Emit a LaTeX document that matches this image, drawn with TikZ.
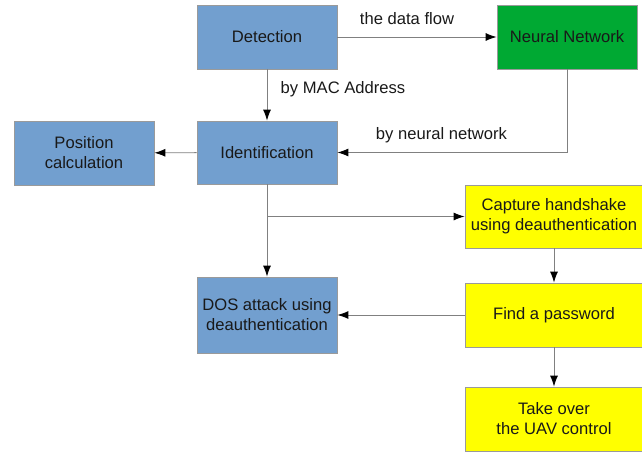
\documentclass[tikz,border=0pt]{standalone}
\usepackage{fontspec}
\setmainfont{Liberation Sans}
\usetikzlibrary{arrows.meta}
\definecolor{boxblue}{HTML}{729FCF}
\definecolor{boxgreen}{HTML}{00A933}
\definecolor{boxyellow}{HTML}{FFFF00}
\definecolor{edgegray}{HTML}{9A9A9A}
\definecolor{linegray}{HTML}{808080}
\tikzset{
  box/.style={draw=edgegray, line width=0.8pt, rectangle, inner sep=0pt, align=center,
    font=\fontsize{16.6}{20}\selectfont, text=black!90},
  bluebox/.style={box, fill=boxblue, minimum width=140pt, minimum height=64pt},
  greenbox/.style={box, fill=boxgreen, minimum width=140pt, minimum height=64pt},
  yellowbox/.style={box, fill=boxyellow, minimum width=178pt, minimum height=64pt},
  conn/.style={draw=linegray, line width=0.9pt, -{Latex[length=11pt,width=8pt,color=black]}},
  lbl/.style={font=\fontsize{16.6}{20}\selectfont, inner sep=0pt, text=black!90}
}
\begin{document}
\begin{tikzpicture}[x=1pt,y=-1pt]
\useasboundingbox (0,0) rectangle (642,452);
\node[bluebox] (det) at (267,37) {Detection};
\node[greenbox] (nn) at (567,37) {Neural Network};
\node[bluebox] (pos) at (84,153) {Position\\calculation};
\node[bluebox, minimum height=63pt] (id) at (267,152.5) {Identification};
\node[yellowbox, minimum height=63pt] (cap) at (554,216.5) {Capture handshake\\using deauthentication};
\node[bluebox, minimum height=76pt] (dos) at (267,315) {DOS attack using\\deauthentication};
\node[yellowbox] (find) at (554,315) {Find a password};
\node[yellowbox] (take) at (554,419) {Take over\\the UAV control};
\coordinate (br) at (267,216.5);
\draw[conn] (det) -- (nn);
\draw[conn] (det) -- (id);
\draw[conn] (nn.south) |- (id.east);
\draw[conn] (id) -- (pos);
\draw[conn] (id) -- (dos);
\draw[conn] (br) -- (cap.west);
\draw[conn] (cap.south -| find.north) -- (find.north);
\draw[conn] (find) -- (dos);
\draw[conn] (find) -- (take);
\node[lbl] (l1) at (407,19) {the data flow};
\node[lbl] (l2) at (343,89) {by MAC Address};
\node[lbl] (l3) at (441.5,135) {by neural network};
\end{tikzpicture}
\end{document}
